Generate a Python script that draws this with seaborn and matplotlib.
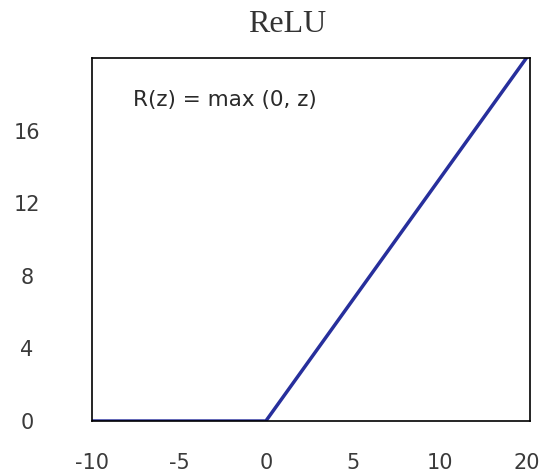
import matplotlib
matplotlib.use("Agg")
import matplotlib.pyplot as plt
import seaborn as sns
import pandas as pd

# ReLU curve as drawn
z = [-10, 0, 15]
r = [0, 0, 20]
x_ticks = [-10, -5, 0, 5, 10, 15]
x_tick_labels = ["-10", "-5", "0", "5", "10", "20"]
y_ticks = [0, 4, 8, 12, 16]

sns.set_style("white")
plt.rcParams['font.family'] = ['DejaVu Sans']

df = pd.DataFrame({"z": z, "R": r})

fig = plt.figure(figsize=(5.39, 4.72), dpi=100)
ax = fig.add_axes([0.171, 0.108, 0.812, 0.769])

sns.lineplot(data=df, x="z", y="R", ax=ax, color="#272f9c", linewidth=2.5)

ax.set_xlim(-10, 15.2)
ax.set_ylim(0, 20)
ax.set_xticks(x_ticks)
ax.set_xticklabels(x_tick_labels)
ax.set_yticks(y_ticks)
ax.set_xlabel("")
ax.set_ylabel("")

ax.tick_params(axis="x", length=0, pad=23, labelsize=15, colors="#3a3a3a")
ax.tick_params(axis="y", length=0, pad=47, labelsize=15, colors="#3a3a3a")
for lab in ax.get_yticklabels():
    lab.set_horizontalalignment("center")

for s in ax.spines.values():
    s.set_visible(True)
    s.set_color("black")
    s.set_linewidth(1.2)

ax.text(0.094, 0.884, "R(z) = max (0, z)", transform=ax.transAxes,
        fontsize=15.5, color="#2a2a2a", ha="left", va="center")

fig.text(0.533, 0.949, "ReLU", family="Liberation Serif", fontsize=23,
         color="#333333", ha="center", va="center")

fig.savefig("out.png", dpi=100)
